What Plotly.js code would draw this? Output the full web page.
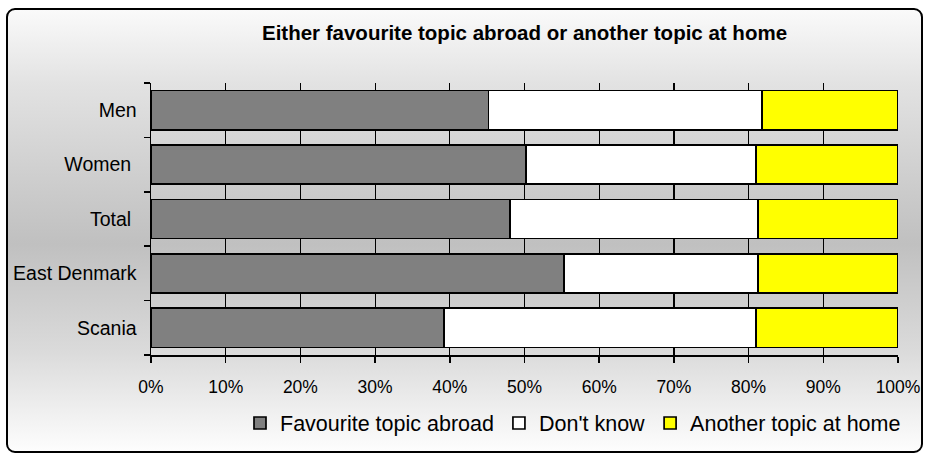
<!DOCTYPE html>
<html>
<head>
<meta charset="utf-8">
<script src="https://cdn.plot.ly/plotly-3.0.1.min.js"></script>
<style>
  html, body { margin: 0; padding: 0; background: #ffffff; }
  #bg {
    position: absolute; left: 6px; top: 8px; width: 913px; height: 441px;
    border: 2px solid #000; border-radius: 9px;
    background: linear-gradient(to bottom, #fafafa 0%, #e2e2e2 17%, #c0c0c0 53%, #dadada 77%, #fdfdfd 100%);
  }
  #chart { position: absolute; left: 0; top: 0; width: 925px; height: 457px; }
</style>
</head>
<body>
<div id="bg"></div>
<div id="chart"></div>
<script>
const categories = ["Men", "Women", "Total", "East Denmark", "Scania"];
const tickLabels = ["Men", "Women\u00a0", "Total\u00a0", "East Denmark", "Scania"];
const seriesNames = ["Favourite topic abroad", "Don't know", "Another topic at home"];
const favouriteAbroad = [45.2, 50.2, 48.1, 55.3, 39.2];
const dontKnow = [36.6, 30.8, 33.2, 26.0, 41.8];
const anotherAtHome = [18.2, 19.0, 18.7, 18.7, 19.0];
const xTickVals = [0, 10, 20, 30, 40, 50, 60, 70, 80, 90, 100];

const colors = ["#808080", "#ffffff", "#ffff00"];
const values = [favouriteAbroad, dontKnow, anotherAtHome];

const traces = values.map((v, i) => ({
  type: "bar",
  orientation: "h",
  name: seriesNames[i],
  x: v,
  y: categories,
  marker: { color: colors[i], line: { color: "#000000", width: 1.7 } },
  hoverinfo: "x+y+name"
}));

const font = "'Liberation Sans', Arial, sans-serif";

const layout = {
  width: 925, height: 457,
  margin: { l: 151, r: 27, t: 83, b: 102 },
  paper_bgcolor: "rgba(0,0,0,0)",
  plot_bgcolor: "rgba(0,0,0,0)",
  barmode: "stack",
  bargap: 0.28,
  font: { family: font, color: "#000000" },
  title: {
    text: "Either favourite topic abroad or another topic at home",
    font: { family: font, size: 20.5, weight: 700, color: "#000000" },
    xref: "paper", x: 0.5, xanchor: "center",
    yref: "container", y: 1 - 33 / 457, yanchor: "middle"
  },
  xaxis: {
    range: [0, 100],
    tickvals: xTickVals,
    ticktext: xTickVals.map(v => v + "%"),
    ticks: "outside", ticklen: 6, tickwidth: 1.5, tickcolor: "#000",
    ticklabelstandoff: 9,
    showgrid: true, gridcolor: "#000000", gridwidth: 1.2,
    zeroline: false,
    showline: true, linecolor: "#000000", linewidth: 1.5,
    tickfont: { family: font, size: 17.5, color: "#000" },
    fixedrange: true
  },
  yaxis: {
    type: "category",
    categoryorder: "array",
    categoryarray: categories,
    tickvals: categories,
    ticktext: tickLabels,
    autorange: "reversed",
    tickson: "boundaries",
    ticks: "outside", ticklen: 6, tickwidth: 1.5, tickcolor: "#000",
    ticklabelstandoff: 9,
    showgrid: false,
    zeroline: false,
    showline: true, linecolor: "#000000", linewidth: 1.5,
    tickfont: { family: font, size: 19.5, color: "#000" },
    fixedrange: true
  },
  showlegend: true,
  legend: {
    orientation: "h",
    traceorder: "normal",
    x: (240 - 151) / 747, xanchor: "left",
    y: -0.25, yanchor: "middle",
    font: { family: font, size: 21.5, color: "#000" },
    bgcolor: "rgba(0,0,0,0)"
  }
};

Plotly.newPlot("chart", traces, layout, { displayModeBar: false, staticPlot: true });
</script>
</body>
</html>
